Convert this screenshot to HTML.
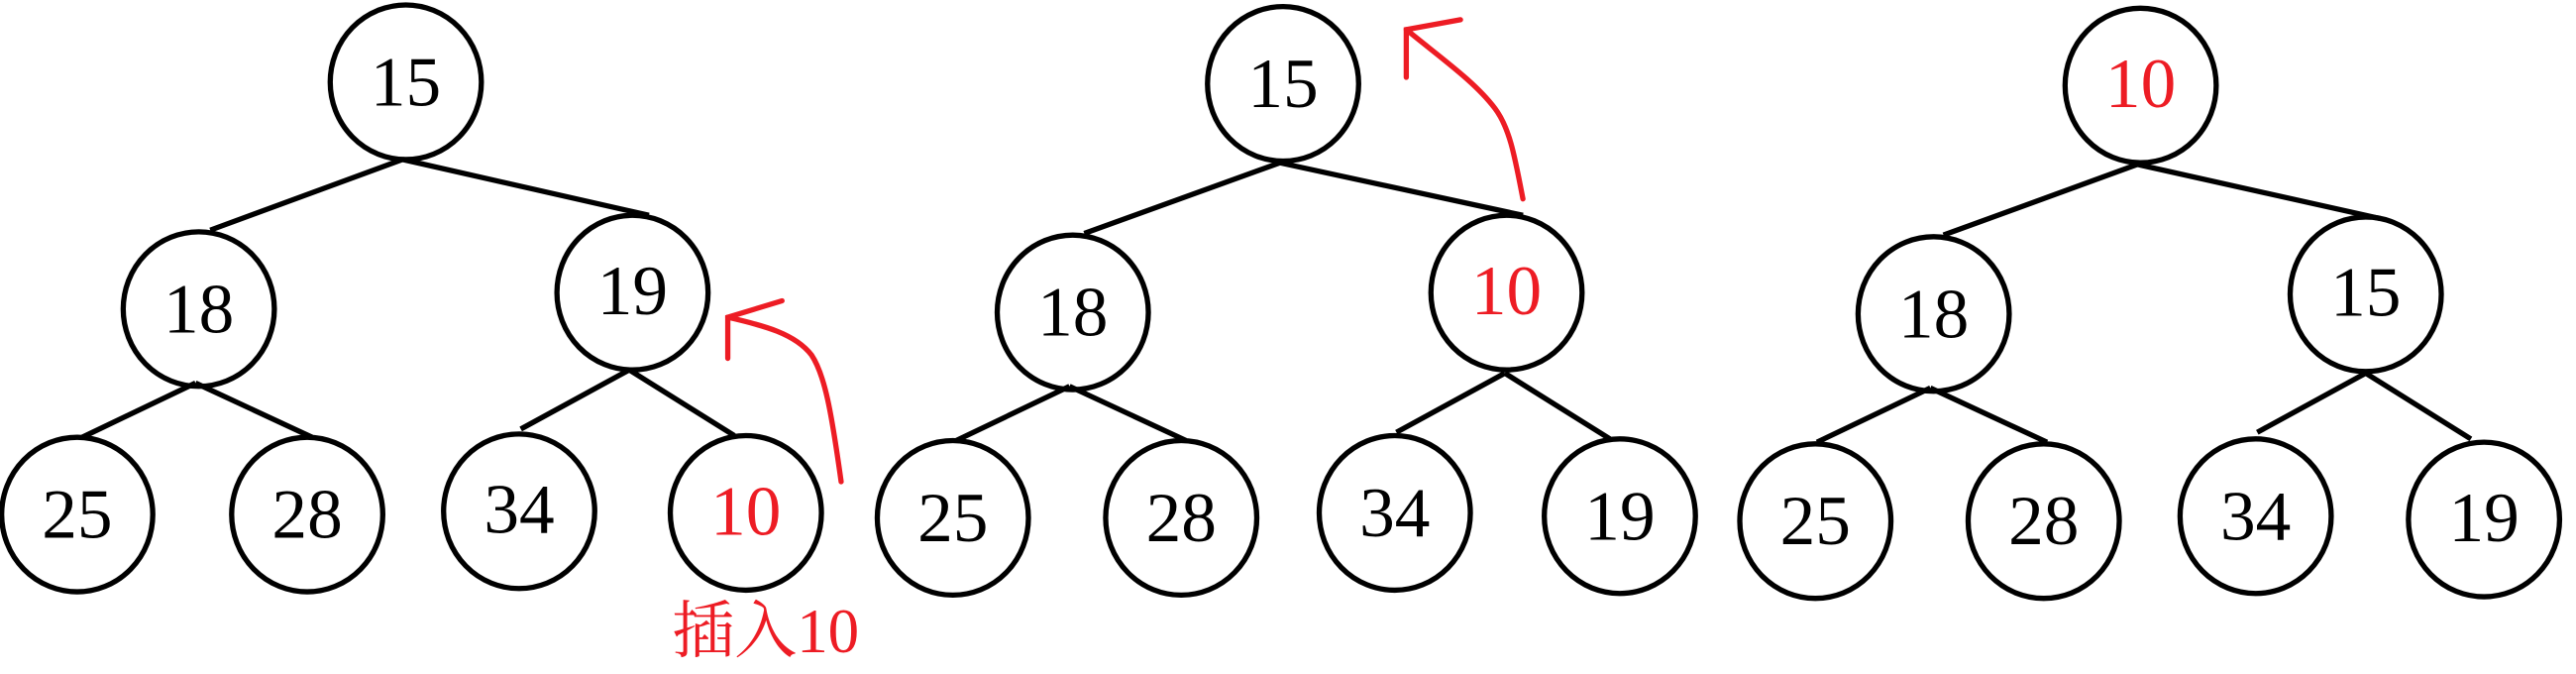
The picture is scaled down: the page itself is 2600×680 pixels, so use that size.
<!DOCTYPE html>
<html><head><meta charset="utf-8"><style>
html,body{margin:0;padding:0;background:#fff;}
svg{display:block;}
text{font-family:"Liberation Serif","Noto Serif CJK SC",serif;font-size:43px;text-anchor:middle;dominant-baseline:central;}
</style></head><body>
<svg width="2600" height="680" viewBox="0 0 1568 410" preserveAspectRatio="none" xmlns="http://www.w3.org/2000/svg">
<g stroke="#000" stroke-width="3.2" fill="none">
<!-- tree 1 -->
<line x1="245" y1="97" x2="128" y2="140"/><line x1="245" y1="97" x2="395" y2="131"/>
<line x1="119" y1="233" x2="50" y2="266"/><line x1="119" y1="233" x2="190" y2="266"/>
<line x1="383" y1="225" x2="317" y2="261"/><line x1="383" y1="225" x2="447" y2="265"/>
<ellipse cx="247" cy="50" rx="46" ry="47"/>
<ellipse cx="121" cy="188" rx="46" ry="47"/>
<ellipse cx="385" cy="178" rx="46" ry="47"/>
<ellipse cx="47" cy="313" rx="46" ry="47"/>
<ellipse cx="187" cy="313" rx="46" ry="47"/>
<ellipse cx="316" cy="311" rx="46" ry="47"/>
<ellipse cx="454" cy="312" rx="46" ry="47"/>
<!-- tree 2 -->
<line x1="779" y1="99" x2="660" y2="142"/><line x1="779" y1="99" x2="927" y2="131"/>
<line x1="651" y1="235" x2="582" y2="268"/><line x1="651" y1="235" x2="722" y2="268"/>
<line x1="916" y1="227" x2="850" y2="263"/><line x1="916" y1="227" x2="980" y2="267"/>
<ellipse cx="781" cy="51" rx="46" ry="47"/>
<ellipse cx="653" cy="190" rx="46" ry="47"/>
<ellipse cx="917" cy="178" rx="46" ry="47"/>
<ellipse cx="580" cy="315" rx="46" ry="47"/>
<ellipse cx="719" cy="315" rx="46" ry="47"/>
<ellipse cx="849" cy="312" rx="46" ry="47"/>
<ellipse cx="986" cy="314" rx="46" ry="47"/>
<!-- tree 3 -->
<line x1="1301" y1="100" x2="1183" y2="143"/><line x1="1301" y1="100" x2="1449" y2="133"/>
<line x1="1175" y1="236" x2="1106" y2="269"/><line x1="1175" y1="236" x2="1246" y2="269"/>
<line x1="1440" y1="227" x2="1374" y2="263"/><line x1="1440" y1="227" x2="1504" y2="267"/>
<ellipse cx="1303" cy="52" rx="46" ry="47"/>
<ellipse cx="1177" cy="191" rx="46" ry="47"/>
<ellipse cx="1440" cy="179" rx="46" ry="47"/>
<ellipse cx="1105" cy="317" rx="46" ry="47"/>
<ellipse cx="1244" cy="317" rx="46" ry="47"/>
<ellipse cx="1373" cy="314" rx="46" ry="47"/>
<ellipse cx="1512" cy="316" rx="46" ry="47"/>
</g>
<g stroke="#ed1c24" stroke-width="3.2" fill="none" stroke-linecap="round">
<path d="M512 293 C506 250 502 228 494 216 C484 203 465 198 443 193"/>
<path d="M476 183 L443 193 L443 218"/>
<path d="M927 121 C922 95 919 78 910 66 C898 50 878 36 856 18"/>
<path d="M889 12 L856 18 L856 47"/>
</g>
<g fill="#000">
<text x="247" y="50">15</text><text x="121" y="188">18</text><text x="385" y="177">19</text>
<text x="47" y="313">25</text><text x="187" y="313">28</text><text x="316" y="310">34</text>
<text x="653" y="190">18</text><text x="781" y="51">15</text>
<text x="580" y="315">25</text><text x="719" y="315">28</text><text x="849" y="312">34</text><text x="986" y="314">19</text>
<text x="1177" y="191">18</text><text x="1440" y="178">15</text>
<text x="1105" y="317">25</text><text x="1244" y="317">28</text><text x="1373" y="314">34</text><text x="1512" y="315">19</text>
</g>
<g fill="#ed1c24">
<text x="454" y="311">10</text>
<text x="917" y="177">10</text>
<text x="1303" y="51">10</text>
<text x="466" y="384" style="font-size:38px">插入10</text>
</g>
</svg>
</body></html>
